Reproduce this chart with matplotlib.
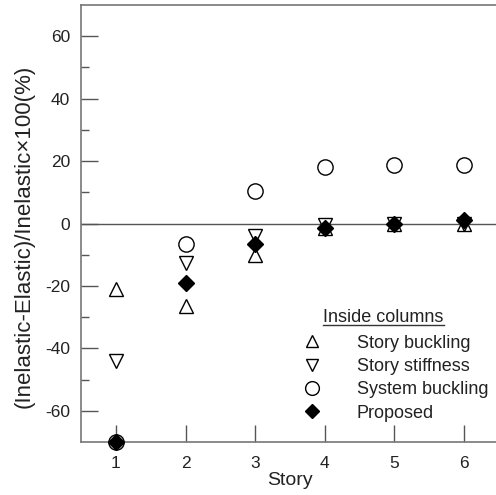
import matplotlib.pyplot as plt
from matplotlib.lines import Line2D

plt.rcParams['font.family'] = ['Liberation Sans', 'DejaVu Sans']
plt.rcParams['axes.unicode_minus'] = False

# 층별 오차 (%)
stories = [1, 2, 3, 4, 5, 6]
story_buckling = [-21, -26.5, -10, -1.5, 0, 0]
story_stiffness = [-44, -12.5, -4, -0.5, 0, 0]
system_buckling = [-70, -6.5, 10.5, 18, 18.8, 18.8]
proposed = [-70, -19, -6.5, -1.5, 0, 1]

fig = plt.figure(figsize=(4.96, 4.95), dpi=100)
ax = fig.add_axes([81 / 496, 53 / 495, 418 / 496, 437 / 495])

ax.axhline(0, color='#555555', lw=1.0, zorder=1)

mk = dict(linestyle='none', clip_on=False, zorder=3)
ax.plot(stories, story_buckling, marker='^', ms=10, mfc='white', mec='black', mew=1.0,
        label='Story buckling', **mk)
ax.plot(stories, story_stiffness, marker='v', ms=10, mfc='white', mec='black', mew=1.0,
        label='Story stiffness', **mk)
ax.plot(stories, system_buckling, marker='o', ms=11, mfc='white', mec='black', mew=1.0,
        label='System buckling', **mk)
ax.plot(stories, proposed, marker='D', ms=8, mfc='black', mec='black', mew=1.0,
        label='Proposed', **mk)

ax.set_xlim(0.5, 6.5)
ax.set_ylim(-70, 70)
ax.set_xticks(stories)
ax.set_yticks([-60, -40, -20, 0, 20, 40, 60])
ax.set_yticks(range(-50, 70, 20), minor=True)
ax.tick_params(axis='both', which='major', direction='in', length=12, width=1.0,
               color='#555555', labelsize=12.5, labelcolor='#222222')
ax.tick_params(axis='y', which='major', pad=8)
ax.tick_params(axis='x', which='major', pad=10)
ax.tick_params(axis='y', which='minor', direction='in', length=6, width=1.0, color='#555555')
ax.tick_params(top=False, right=False)
for s in ax.spines.values():
    s.set_color('#777777')
    s.set_linewidth(1.2)

ax.set_xlabel('Story', fontsize=14, labelpad=1, color='#222222')
ax.set_ylabel('(Inelastic-Elastic)/Inelastic\u00d7100(%)', fontsize=16, color='#222222')
ax.yaxis.set_label_coords(-0.112, 0.47)

leg = ax.legend(loc='lower right', bbox_to_anchor=(1.0, 0.022),
                frameon=False, fontsize=13, handletextpad=2.0,
                labelspacing=0.35, handlelength=1.0, markerscale=0.9, borderaxespad=0.2)
for t in leg.get_texts():
    t.set_color('#222222')

# 범례 제목 (밑줄)
fig.canvas.draw()
lb = leg.get_window_extent().transformed(ax.transAxes.inverted())
title = ax.text(0.58, lb.y1 + 0.002, 'Inside columns', transform=ax.transAxes,
                fontsize=13, color='#222222', ha='left', va='bottom')
fig.canvas.draw()
bb = title.get_window_extent().transformed(fig.transFigure.inverted())
fig.add_artist(Line2D([bb.x0, bb.x1], [bb.y0 + 0.004, bb.y0 + 0.004],
                      transform=fig.transFigure, color='#333333', lw=1.0))

fig.savefig('out.png', dpi=100)
